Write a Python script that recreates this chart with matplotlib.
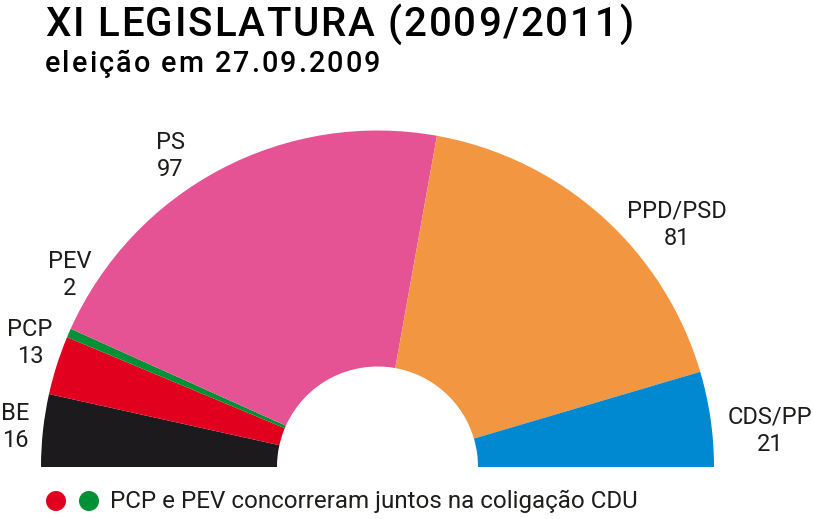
import matplotlib.pyplot as plt
from matplotlib.patches import Wedge, Circle

# seats per party, left to right around the hemicycle
parties = ['BE', 'PCP', 'PEV', 'PS', 'PPD/PSD', 'CDS/PP']
seats = [16, 13, 2, 97, 81, 21]
colors = ['#1c1a1d', '#e2001f', '#009036', '#e65394', '#f29641', '#0089d0']

title = 'XI LEGISLATURA (2009/2011)'
subtitle = 'eleição em 27.09.2009'
note = 'PCP e PEV concorreram juntos na coligação CDU'

# label positions (pixels) picked to sit like the original
label_pos = [(15, 427), (30, 343), (70, 275), (170, 156), (677, 225), (770, 431)]

plt.rcParams['font.family'] = ['Roboto', 'DejaVu Sans']
txt = '#1d1d1b'

fig = plt.figure(figsize=(8.13, 5.19), dpi=100)
ax = fig.add_axes([0, 0, 1, 1])
ax.set_xlim(0, 813)
ax.set_ylim(519, 0)
ax.axis('off')
renderer = fig.canvas.get_renderer()


def text_width(s, **kw):
    t = ax.text(0, 0, s, **kw)
    w = t.get_window_extent(renderer).width
    t.remove()
    return w


# draws text letter by letter so it can be stretched to a given width
def tracked_text(x, y, s, width, **kw):
    bar = text_width('|', **kw)
    offs = [text_width(s[:i] + '|', **kw) - bar if i else 0 for i in range(len(s))]
    natural = text_width(s, **kw)
    gap = (width - natural) / (len(s) - 1)
    for i, ch in enumerate(s):
        ax.text(x + offs[i] + i * gap, y, ch, ha='left', va='baseline', **kw)


cx, cy = 377.5, 467
r_out, r_in = 336.5, 100.5
total = sum(seats)

theta = 180.0
for name, n, c, pos in zip(parties, seats, colors, label_pos):
    span = 180.0 * n / total
    ax.add_patch(Wedge((cx, cy), r_out, theta, theta + span, width=r_out - r_in,
                       facecolor=c, edgecolor='none'))
    theta += span
    ax.text(pos[0], pos[1], name + '\n' + str(n), ha='center', va='center',
            fontsize=17, color=txt, linespacing=1.25)

tracked_text(45, 36, title, 588, fontsize=29, fontweight='medium', color='black')
tracked_text(45, 72.5, subtitle, 335, fontsize=20.7, fontweight='medium', color='black')

# note about the CDU coalition
ax.add_patch(Circle((56, 501), 10, facecolor=colors[1], edgecolor='none'))
ax.add_patch(Circle((89, 501), 10, facecolor=colors[2], edgecolor='none'))
ax.text(110, 501, note, fontsize=17.4, color=txt, va='center', ha='left')

fig.savefig('out.png', dpi=100)
